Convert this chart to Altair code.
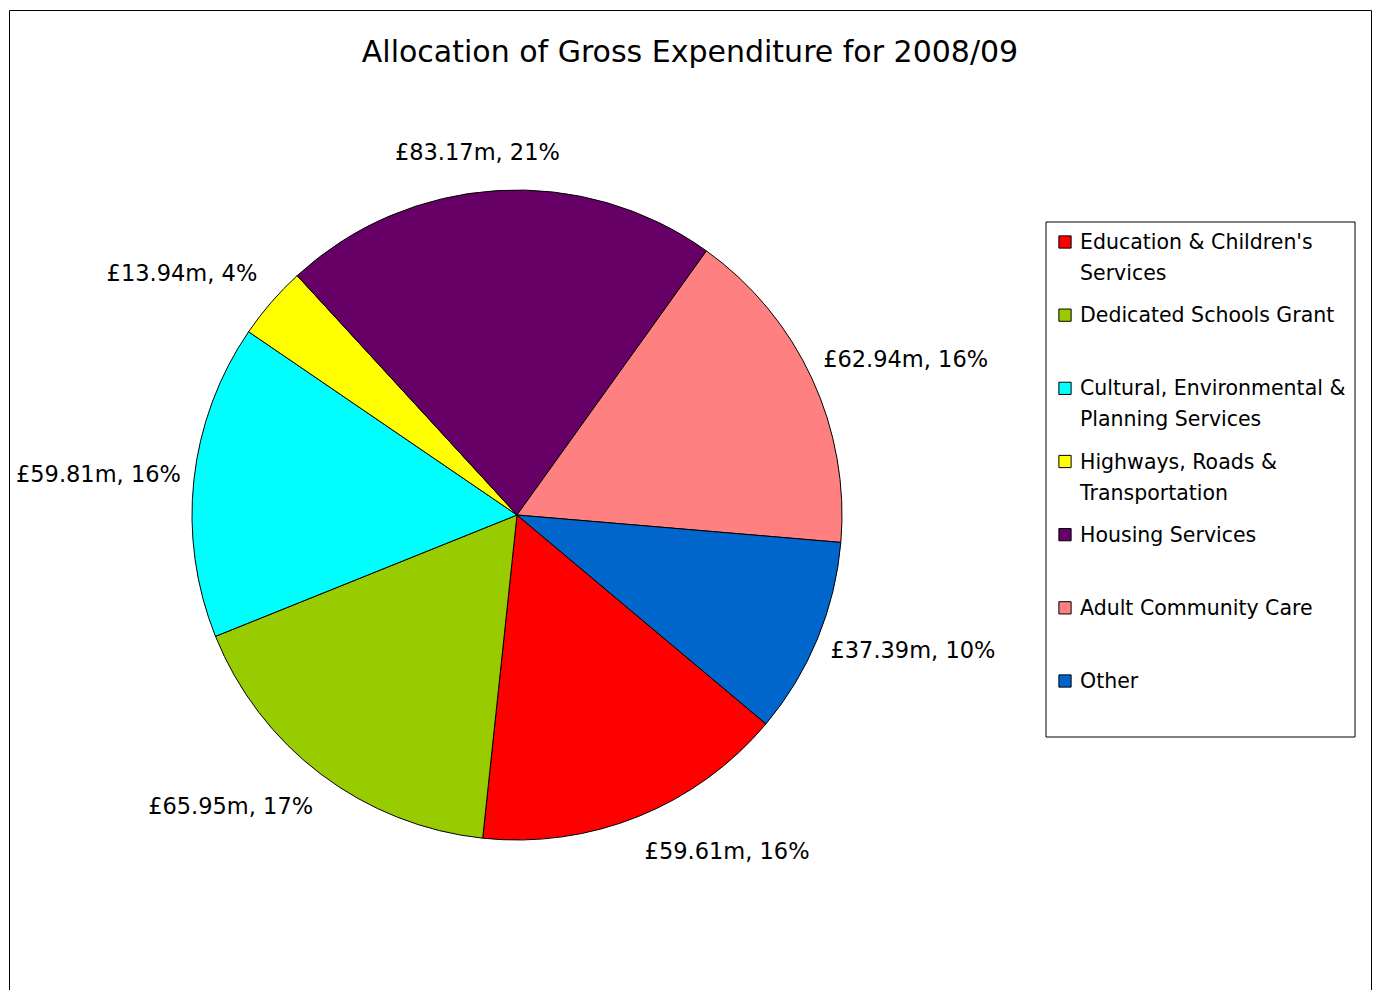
import math
import altair as alt
import pandas as pd

# ---- data ----
categories = [
    "Education & Children's Services",
    "Dedicated Schools Grant",
    "Cultural, Environmental & Planning Services",
    "Highways, Roads & Transportation",
    "Housing Services",
    "Adult Community Care",
    "Other",
]
legend_lines = [
    "Education & Children's\nServices",
    "Dedicated Schools Grant",
    "Cultural, Environmental &\nPlanning Services",
    "Highways, Roads &\nTransportation",
    "Housing Services",
    "Adult Community Care",
    "Other",
]
values_m = [59.61, 65.95, 59.81, 13.94, 83.17, 62.94, 37.39]
percents = [16, 17, 16, 4, 21, 16, 10]
colors = ["#FF0000", "#99CC00", "#00FFFF", "#FFFF00", "#660066", "#FF8080", "#0066CC"]

df = pd.DataFrame({
    "category": categories,
    "legend": legend_lines,
    "value": values_m,
    "pct": percents,
    "order": list(range(len(categories))),
})

TOTAL = round(sum(values_m), 4)
START_DEG = 130
START = math.radians(START_DEG)
FONT = "DejaVu Sans"

theta_scale = alt.Scale(domain=[0, TOTAL], range=[START, START + 2 * math.pi])
color_scale = alt.Scale(domain=categories, range=colors)
leg_y = alt.Scale(type="point", range=[232, 671], padding=0)

CX, CY, R = 508, 505, 325

base = (
    alt.Chart(df)
    .transform_window(cum1="sum(value)", sort=[alt.SortField("order", order="ascending")], frame=[None, 0])
    .transform_calculate(cum0="datum.cum1 - datum.value")
    .transform_calculate(mid="datum.cum1 - datum.value / 2")
    .transform_calculate(ang=f"({START_DEG} + 360 * datum.mid / {TOTAL}) * PI / 180")
    .transform_calculate(halign="abs(sin(datum.ang)) < 0.2 ? 'center' : (sin(datum.ang) > 0 ? 'left' : 'right')")
    .transform_calculate(valign="cos(datum.ang) > 0.4 ? 'bottom' : (cos(datum.ang) < -0.4 ? 'top' : 'middle')")
    .transform_calculate(label="'£' + format(datum.value, '.2f') + 'm, ' + datum.pct + '%'")
)

arcs = base.mark_arc(stroke="black", strokeWidth=1, radius=R).encode(
    theta=alt.Theta("cum0:Q", scale=theta_scale, stack=False),
    theta2="cum1:Q",
    color=alt.Color("category:N", scale=color_scale, legend=None),
    x=alt.value(CX),
    y=alt.value(CY),
)

# label placement offsets from the pie edge, by which side of the pie a label sits on
label_offsets = {
    ("left", "bottom"): (11, -19),
    ("left", "middle"): (13, 12),
    ("left", "top"): (6, 36),
    ("right", "top"): (-8, 33),
    ("right", "middle"): (-13, -5),
    ("right", "bottom"): (-14, -28),
    ("center", "bottom"): (-20, -38),
    ("center", "middle"): (0, 0),
    ("center", "top"): (0, 36),
}


def label_layer(halign, valign):
    dx, dy = label_offsets[(halign, valign)]
    return base.transform_filter(
        f"datum.halign == '{halign}' && datum.valign == '{valign}'"
    ).mark_text(
        align=halign, baseline="middle", radius=R, dx=dx, dy=dy, fontSize=22.5, font=FONT, color="black"
    ).encode(
        theta=alt.Theta("mid:Q", scale=theta_scale, stack=False),
        text="label:N",
        x=alt.value(CX),
        y=alt.value(CY),
    )


label_layers = [label_layer(h, v) for (h, v) in label_offsets]

box = alt.Chart(pd.DataFrame({"k": [0]})).mark_rect(fill="white", stroke="black", strokeWidth=1).encode(
    x=alt.value(1037), x2=alt.value(1346), y=alt.value(212), y2=alt.value(727)
)

leg_sq = alt.Chart(df).mark_square(size=150, stroke="black", strokeWidth=1, opacity=1).encode(
    y=alt.Y("order:O", scale=leg_y, axis=None),
    x=alt.value(1056),
    color=alt.Color("category:N", scale=color_scale, legend=None),
)

leg_txt = alt.Chart(df).mark_text(
    align="left", baseline="top", dy=-9, lineBreak="\n", lineHeight=31, fontSize=20.5, font=FONT, color="black"
).encode(
    y=alt.Y("order:O", scale=leg_y, axis=None),
    x=alt.value(1071),
    text="legend:N",
)

chart = (
    alt.layer(arcs, *label_layers, box, leg_sq, leg_txt)
    .properties(
        width=1362,
        height=1000,
        padding={"left": 1, "top": 2, "right": 2, "bottom": 0},
        title=alt.TitleParams(
            "Allocation of Gross Expenditure for 2008/09",
            fontSize=30, font=FONT, fontWeight="normal", color="black", anchor="middle", offset=-58,
        ),
    )
    .configure_view(stroke="black", strokeWidth=1)
)

chart.save("out.html", embed_options={"renderer": "svg", "actions": False})
